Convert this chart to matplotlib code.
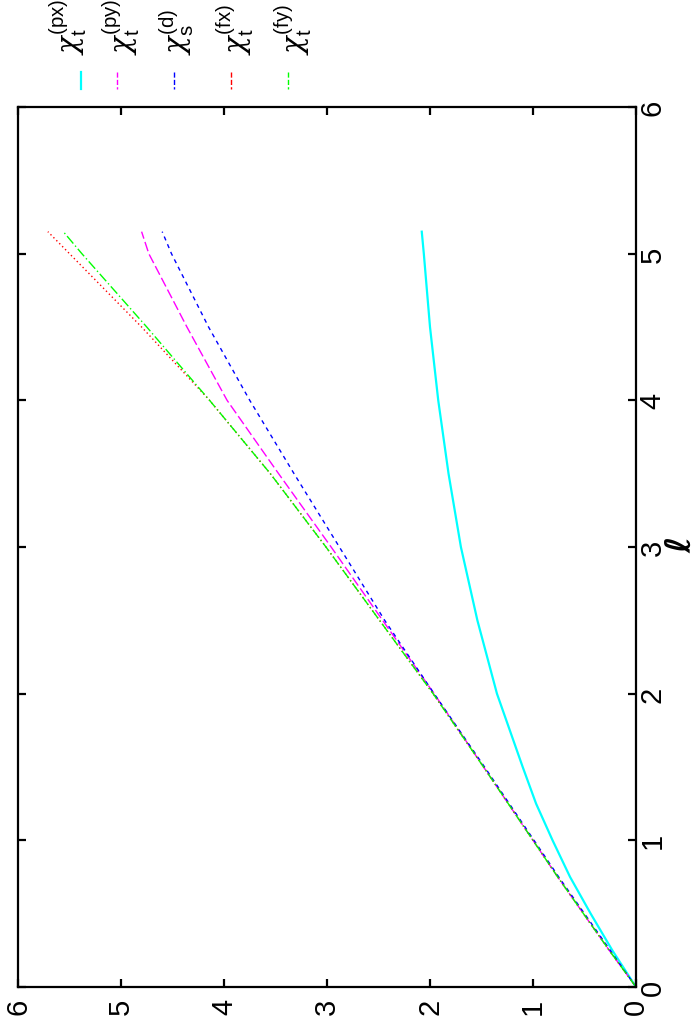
import numpy as np
import matplotlib
matplotlib.use('Agg')
import matplotlib.pyplot as plt
from matplotlib.lines import Line2D

plt.rcParams['font.family'] = ['Liberation Sans', 'DejaVu Sans']
plt.rcParams['mathtext.fontset'] = 'custom'
plt.rcParams['mathtext.rm'] = 'Liberation Sans'
plt.rcParams['mathtext.it'] = 'DejaVu Serif:italic'
plt.rcParams['mathtext.bf'] = 'Liberation Sans:bold'

# data
ell = [0, 0.25, 0.5, 0.75, 1.0, 1.25, 1.5, 2.0, 2.5, 3.0, 3.5, 4.0, 4.5, 5.0, 5.15]
chi_px = [0, 0.23, 0.44, 0.64, 0.81, 0.97, 1.10, 1.35, 1.54, 1.70, 1.82, 1.92, 2.00, 2.06, 2.08]
chi_py = [0, 0.26, 0.51, 0.76, 1.00, 1.24, 1.48, 1.96, 2.46, 2.96, 3.47, 3.97, 4.36, 4.73, 4.80]
chi_d = [0, 0.25, 0.50, 0.75, 0.99, 1.23, 1.47, 1.96, 2.44, 2.88, 3.32, 3.75, 4.15, 4.51, 4.60]
chi_fx = [0, 0.26, 0.51, 0.76, 1.00, 1.24, 1.48, 1.97, 2.49, 3.01, 3.55, 4.14, 4.80, 5.50, 5.71]
chi_fy = [0, 0.26, 0.51, 0.76, 1.00, 1.24, 1.48, 1.97, 2.49, 3.01, 3.55, 4.14, 4.75, 5.38, 5.56]

labels = [r'$\chi_{\rm t}^{\rm (px)}$', r'$\chi_{\rm t}^{\rm (py)}$', r'$\chi_{\rm s}^{\rm (d)}$',
          r'$\chi_{\rm t}^{\rm (fx)}$', r'$\chi_{\rm t}^{\rm (fy)}$']
series = [chi_px, chi_py, chi_d, chi_fx, chi_fy]
colors = ['#00ffff', '#ff00ff', '#0000ff', '#ff0000', '#00ff00']
styles = ['-', (0, (7, 2.5)), (0, (3, 3)), (0, (1, 2)), (0, (7, 2, 1, 2))]
widths = [1.6, 1.0, 1.0, 1.0, 1.0]

fig = plt.figure(figsize=(6.96, 10.20), dpi=100)
ax = fig.add_axes([18/696, 32/1020, 618/696, 880/1020])

# plot is rotated: chi on horizontal axis (reversed), ell vertical
lines = []
for s, c, ls, lw in zip(series, colors, styles, widths):
    ln, = ax.plot(s, ell, color=c, linestyle=ls, linewidth=lw)
    lines.append(ln)

ax.set_xlim(6, 0)
ax.set_ylim(0, 6)
ax.set_xticks(range(7))
ax.set_yticks(range(7))
for sp in ax.spines.values():
    sp.set_linewidth(1.6)
ax.tick_params(direction='in', length=6, width=1.6, top=True, right=True,
               labelsize=21)
ax.tick_params(axis='x', pad=8, labelrotation=90)
ax.tick_params(axis='y', left=True, labelleft=False, labelright=True, pad=2,
               labelrotation=90)
for t in ax.get_yticklabels():
    t.set_verticalalignment('center')

fig.text(681/696, 1 - 545/1020, 'ℓ', rotation=90, ha='center', va='center',
         fontsize=25, fontweight='bold', family='DejaVu Sans')

# legend drawn by hand, rotated like the rest
lab_x = [68, 121, 177, 235, 293]
samp_x = [81, 117, 174, 231, 288]
for ln, lab, lx, sx in zip(lines, labels, lab_x, samp_x):
    fig.text(lx/696, 1 - 55/1020, lab, rotation=90, ha='center', va='bottom',
             fontsize=21)
    fig.add_artist(Line2D([sx/696, sx/696], [1 - 73/1020, 1 - 90/1020],
                          transform=fig.transFigure, color=ln.get_color(),
                          linestyle=ln.get_linestyle(), linewidth=ln.get_linewidth()))

fig.savefig('out.png', dpi=100)
